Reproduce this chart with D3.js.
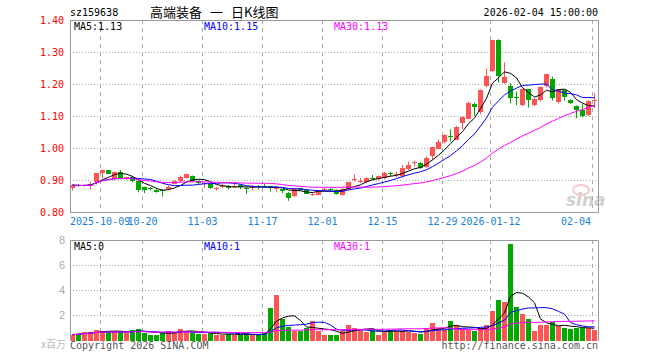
<!DOCTYPE html>
<html>
<head>
<meta charset="utf-8">
<script src="https://cdn.jsdelivr.net/npm/d3@7"></script>
<style>
body { margin: 0; background: #fff; }
text { font-family: "DejaVu Sans Mono", monospace; font-size: 10px; }
</style>
</head>
<body>
<div id="chart"></div>
<script>
// daily K-line, 2025-09-24 .. 2026-02-04
var opens  = [0.874,0.884,0.881,0.882,0.893,0.922,0.931,0.904,0.926,0.903,0.909,0.897,0.877,0.875,0.870,0.868,0.870,0.889,0.898,0.907,
              0.912,0.897,0.889,0.888,0.873,0.878,0.882,0.880,0.884,0.876,0.876,0.880,0.882,0.881,0.871,0.871,0.860,0.848,0.875,0.869,
              0.853,0.855,0.869,0.872,0.869,0.855,0.871,0.901,0.895,0.892,0.906,0.901,0.905,0.921,0.915,0.911,0.933,0.955,0.954,0.942,
              0.973,0.999,1.020,1.038,1.027,1.077,1.093,1.137,1.113,1.194,1.240,1.337,1.204,1.194,1.160,1.134,1.183,1.134,1.148,1.194,
              1.216,1.142,1.181,1.150,1.131,1.119,1.103,1.148];
var highs  = [0.886,0.888,0.886,0.895,0.923,0.932,0.932,0.927,0.931,0.910,0.912,0.899,0.879,0.878,0.872,0.872,0.884,0.899,0.914,0.920,
              0.914,0.899,0.893,0.890,0.878,0.887,0.884,0.895,0.886,0.879,0.884,0.884,0.889,0.882,0.880,0.872,0.862,0.876,0.876,0.871,
              0.860,0.868,0.876,0.877,0.871,0.876,0.895,0.918,0.906,0.908,0.916,0.914,0.925,0.926,0.926,0.947,0.957,0.960,0.957,0.974,
              1.004,1.026,1.043,1.059,1.069,1.098,1.145,1.142,1.183,1.247,1.338,1.340,1.268,1.204,1.176,1.185,1.185,1.155,1.192,1.232,
              1.223,1.185,1.183,1.152,1.133,1.137,1.149,1.172];
var lows   = [0.867,0.879,0.879,0.871,0.886,0.905,0.918,0.900,0.905,0.900,0.893,0.862,0.859,0.867,0.860,0.848,0.868,0.887,0.893,0.905,
              0.894,0.887,0.875,0.872,0.867,0.874,0.871,0.878,0.871,0.856,0.866,0.871,0.879,0.864,0.864,0.858,0.835,0.846,0.867,0.856,
              0.850,0.853,0.866,0.864,0.854,0.851,0.869,0.895,0.890,0.889,0.900,0.899,0.902,0.911,0.908,0.907,0.931,0.942,0.935,0.938,
              0.962,0.996,1.015,1.020,1.025,1.059,1.090,1.100,1.105,1.190,1.238,1.205,1.200,1.140,1.134,1.131,1.126,1.131,1.145,1.190,
              1.148,1.139,1.148,1.138,1.093,1.096,1.100,1.124];
var closes = [0.884,0.882,0.883,0.887,0.921,0.931,0.920,0.925,0.907,0.908,0.896,0.868,0.869,0.873,0.864,0.866,0.877,0.897,0.910,0.918,
              0.897,0.890,0.891,0.876,0.875,0.880,0.877,0.882,0.879,0.874,0.878,0.878,0.880,0.875,0.877,0.866,0.845,0.874,0.870,0.858,
              0.857,0.866,0.873,0.870,0.858,0.873,0.893,0.903,0.898,0.906,0.904,0.911,0.921,0.918,0.918,0.936,0.947,0.957,0.938,0.970,
              1.002,1.020,1.041,1.034,1.067,1.096,1.142,1.129,1.181,1.226,1.337,1.223,1.223,1.157,1.156,1.183,1.148,1.152,1.190,1.230,
              1.157,1.183,1.160,1.140,1.117,1.100,1.147,1.150];
// volume, million shares
var volumes = [0.42,0.50,0.64,0.64,0.82,0.74,0.64,0.70,0.64,0.56,0.82,0.90,0.53,0.42,0.42,0.56,0.74,0.64,0.90,0.70,
               0.64,0.48,0.48,0.56,0.42,0.42,0.48,0.42,0.42,0.53,0.37,0.37,0.56,2.60,3.60,1.70,1.08,0.70,0.70,1.00,
               1.55,0.74,0.42,0.42,0.37,0.74,1.22,1.00,0.82,0.61,0.90,0.42,0.70,0.82,0.74,0.74,0.64,0.56,0.50,0.96,
               1.38,0.96,0.82,1.48,1.17,0.90,0.82,0.70,0.96,1.22,2.33,3.20,3.08,7.68,2.68,2.07,1.70,0.74,1.22,1.17,
               1.43,1.09,0.96,0.90,1.00,1.00,1.00,0.82];

var dateTickIdx = [5, 12, 22, 32, 42, 52, 62, 70, 87];
var dateTickLabels = ["2025-10-09", "10-20", "11-03", "11-17", "12-01", "12-15", "12-29", "2026-01-12", "02-04"];
var priceTicks = [0.80, 0.90, 1.00, 1.10, 1.20, 1.30, 1.40];
var volTicks = [2, 4, 6, 8];
var priceLegend = ["MA5:1.13", "MA10:1.15", "MA30:1.13"];
var volLegend = ["MA5:0", "MA10:1", "MA30:1"];
var maPeriods = [5, 10, 30];
var maColors = ["#000", "#00f", "#f0f"];

var width = 660, height = 360;
var left = 70, right = 598;
var pTop = 20, pBottom = 212, vTop = 240, vBottom = 340;
var up = "#ff5454", down = "#00a800", gridC = "#aaa", axisC = "#999";

var svg = d3.select("#chart").append("svg")
    .attr("width", width)
    .attr("height", height);

var x = d3.scaleBand().domain(d3.range(closes.length)).range([left, right]);
var y = d3.scaleLinear().domain([0.80, 1.40]).range([pBottom, pTop]);
var yv = d3.scaleLinear().domain([0, 8]).range([vBottom, vTop]);
var cx = function(i) { return x(i) + 2.5; };

function movingAvg(arr, n) {
    return arr.map(function(d, i) {
        var s = arr.slice(Math.max(0, i - n + 1), i + 1);
        return d3.mean(s);
    });
}

// header
svg.append("text").attr("x", 70).attr("y", 16).text("sz159638");
var cjk = function(t, xx) {
    svg.append("text").attr("x", xx).attr("y", 17)
        .style("font-family", "'Noto Sans CJK SC'").style("font-size", "13px")
        .text(t);
};
cjk("高端装备", 150);
cjk("一", 210);
cjk("日K线图", 231);
svg.append("text").attr("x", 598).attr("y", 16).attr("text-anchor", "end").text("2026-02-04 15:00:00");

// ---- price panel ----
var grid = svg.append("g");
grid.selectAll(".hg").data(priceTicks.slice(1, -1)).enter().append("line")
    .attr("x1", left).attr("x2", right)
    .attr("y1", function(d) { return Math.round(y(d)) + 0.5; })
    .attr("y2", function(d) { return Math.round(y(d)) + 0.5; })
    .attr("stroke", gridC).attr("stroke-dasharray", "1,2");
grid.selectAll(".vg").data(dateTickIdx).enter().append("line")
    .attr("x1", function(d) { return x(d) + 0.5; })
    .attr("x2", function(d) { return x(d) + 0.5; })
    .attr("y1", pTop).attr("y2", pBottom)
    .attr("stroke", gridC).attr("stroke-dasharray", "4,4");

// watermark
var wm = svg.append("g").attr("opacity", 0.45);
wm.append("ellipse").attr("cx", 581).attr("cy", 190).attr("rx", 8).attr("ry", 5)
    .attr("fill", "none").attr("stroke", "#f08a8a").attr("stroke-width", 2);
wm.append("text").attr("x", 566).attr("y", 206)
    .style("font-family", "'DejaVu Sans'").style("font-size", "17px")
    .style("font-style", "italic").style("font-weight", "bold")
    .attr("fill", "#999").text("sina");

// candles
var candles = svg.append("g").selectAll("g").data(d3.range(closes.length)).enter().append("g")
    .attr("fill", function(i) { return closes[i] >= opens[i] ? up : down; })
    .attr("stroke", function(i) { return closes[i] >= opens[i] ? up : down; });
candles.append("line")
    .attr("x1", cx).attr("x2", cx)
    .attr("y1", function(i) { return y(highs[i]); })
    .attr("y2", function(i) { return y(lows[i]); });
candles.append("rect")
    .attr("stroke", "none")
    .attr("x", function(i) { return x(i); })
    .attr("width", 5)
    .attr("y", function(i) { return Math.round(y(Math.max(opens[i], closes[i]))); })
    .attr("height", function(i) { return Math.max(1, Math.round(Math.abs(y(opens[i]) - y(closes[i])))); });

// price MAs
maPeriods.forEach(function(n, k) {
    var m = movingAvg(closes, n);
    svg.append("path").datum(m)
        .attr("fill", "none").attr("stroke", maColors[k]).attr("stroke-width", 1)
        .attr("d", d3.line().x(function(d, i) { return cx(i); }).y(function(d) { return y(d); }));
});

// frame + axes
svg.append("rect").attr("x", left + 0.5).attr("y", pTop + 0.5)
    .attr("width", right - left).attr("height", pBottom - pTop)
    .attr("fill", "none").attr("stroke", axisC);
svg.append("g")
    .attr("transform", "translate(" + (left - 3) + ",0)")
    .call(d3.axisLeft(y).tickValues(priceTicks).tickSize(0).tickFormat(d3.format(".2f")))
    .call(function(g) { g.select(".domain").remove(); })
    .selectAll("text").attr("fill", "#f00")
    .style("font-family", "'DejaVu Sans Mono'").style("font-size", "10px");

svg.append("g").selectAll("text").data(dateTickIdx).enter().append("text")
    .attr("y", 225)
    .attr("x", function(d, i) {
        if (i == 0) return left;
        if (i == dateTickIdx.length - 1) return x(d) - 1;
        return x(d) + 0.5;
    })
    .attr("text-anchor", function(d, i) {
        if (i == 0) return "start";
        if (i == dateTickIdx.length - 1) return "end";
        return "middle";
    })
    .attr("fill", "#1a7fd6")
    .text(function(d, i) { return dateTickLabels[i]; });

var legX = [74, 204, 334];
priceLegend.forEach(function(t, k) {
    svg.append("text").attr("x", legX[k]).attr("y", 30).attr("fill", maColors[k]).text(t);
});

// ---- volume panel ----
var vgrid = svg.append("g");
vgrid.selectAll("line.h").data(volTicks.slice(0, -1)).enter().append("line")
    .attr("x1", left).attr("x2", right)
    .attr("y1", function(d) { return Math.round(yv(d)) + 0.5; })
    .attr("y2", function(d) { return Math.round(yv(d)) + 0.5; })
    .attr("stroke", gridC).attr("stroke-dasharray", "1,2");
vgrid.selectAll("line.v").data(dateTickIdx).enter().append("line")
    .attr("x1", function(d) { return x(d) + 0.5; })
    .attr("x2", function(d) { return x(d) + 0.5; })
    .attr("y1", vTop).attr("y2", vBottom)
    .attr("stroke", gridC).attr("stroke-dasharray", "4,4");

svg.append("g").selectAll("rect").data(volumes).enter().append("rect")
    .attr("x", function(d, i) { return x(i); })
    .attr("width", 5)
    .attr("y", function(d) { return Math.round(yv(d)); })
    .attr("height", function(d) { return vBottom - Math.round(yv(d)) + 1; })
    .attr("fill", function(d, i) { return closes[i] >= opens[i] ? up : down; });

maPeriods.forEach(function(n, k) {
    var m = movingAvg(volumes, n);
    svg.append("path").datum(m)
        .attr("fill", "none").attr("stroke", maColors[k]).attr("stroke-width", 1)
        .attr("d", d3.line().x(function(d, i) { return cx(i); }).y(function(d) { return yv(d); }));
});

svg.append("path")
    .attr("d", "M" + (left + 0.5) + "," + (vBottom + 1) + "V" + (vTop + 0.5) + "H" + (right + 0.5) + "V" + (vBottom + 1))
    .attr("fill", "none").attr("stroke", axisC);

svg.append("g").selectAll("text").data(volTicks).enter().append("text")
    .attr("x", 65).attr("y", function(d) { return yv(d) + 4; })
    .attr("text-anchor", "end").attr("fill", "#aaa")
    .style("font-family", "'Liberation Sans'").style("font-size", "11px")
    .text(function(d) { return d; });

volLegend.forEach(function(t, k) {
    svg.append("text").attr("x", legX[k]).attr("y", 250).attr("fill", maColors[k]).text(t);
});

svg.append("text").attr("x", 66).attr("y", 348).attr("text-anchor", "end")
    .attr("fill", "#bbb").style("font-family", "'Noto Sans CJK SC'").style("font-size", "10px")
    .text("x百万");
svg.append("text").attr("x", 70).attr("y", 349).attr("fill", "#555").text("Copyright 2026 SINA.COM");
svg.append("text").attr("x", 598).attr("y", 349).attr("text-anchor", "end").attr("fill", "#555")
    .text("http://finance.sina.com.cn");
</script>
</body>
</html>
